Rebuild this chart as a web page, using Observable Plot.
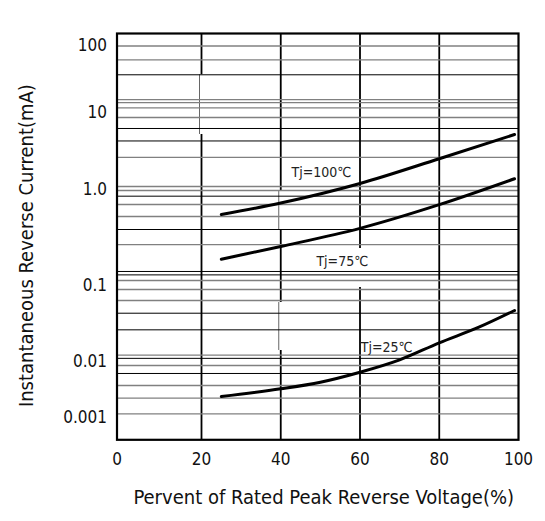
<!DOCTYPE html>
<html><head><meta charset="utf-8">
<script src="https://cdn.jsdelivr.net/npm/d3@7"></script>
<script src="https://cdn.jsdelivr.net/npm/@observablehq/plot@0.6"></script>
<style>body{margin:0;background:#fff} svg{display:block}</style>
</head><body><div id="chart"></div>
<script>
// Percent of rated peak reverse voltage
const voltage = [25, 40, 60, 80, 99];
const tj100 = [0.549, 0.723, 1.197, 2.51, 5.18];
const tj75 = [0.188, 0.255, 0.394, 0.695, 1.38];
const voltage25 = [25, 40, 50, 60, 70, 80, 90, 99];
const tj25 = [0.00237, 0.00325, 0.00427, 0.00644, 0.01052, 0.01762, 0.02825, 0.0469];

const xTicks = [0, 20, 40, 60, 80, 100];
const yTicks = [100, 10, 1, 0.1, 0.01, 0.001];
const yTickLabels = ["100", "10", "1.0", "0.1", "0.01", "0.001"];

// irregular printed grid (mA)
const gridBlack = [150, 36.9, 6.20, 4.27, 0.852, 0.383, 0.140, 0.129, 0.0432, 0.0261, 0.0110, 0.00611];
const gridGray = [100, 61.8, 15.6, 14.1, 11.7, 8.61, 2.61, 1.094, 0.976, 0.698, 0.523, 0.267, 0.1127, 0.0886, 0.0635, 0.0121, 0.00849, 0.00373, 0.00221, 0.00116];
const gridX = [20, 40, 60, 80];
const gapX = [20, 40, 40, 60];
const gapTop = [36.9, 0.976, 0.0597, 0.243];
const gapBottom = [5.18, 0.383, 0.01396, 0.0941];
const gapThin = [true, true, true, false];

const curveLabels = ["Tj=100\u2103", "Tj=75\u2103", "Tj=25\u2103"];
const labelX = [42.7, 49.0, 60.2];
const labelY = [1.64, 0.178, 0.0155];

const xTitle = "Pervent of Rated Peak Reverse Voltage(%)";
const yTitle = "Instantaneous Reverse Current(mA)";

const font = "'Liberation Sans Narrow', 'Arial Narrow', 'DejaVu Sans Condensed', sans-serif";

const series = [
  ...voltage.map((v, i) => ({x: v, y: tj100[i], s: "100"})),
  ...voltage.map((v, i) => ({x: v, y: tj75[i], s: "75"})),
  ...voltage25.map((v, i) => ({x: v, y: tj25[i], s: "25"}))
];
const gaps = gapX.map((x, i) => ({x, top: gapTop[i], bottom: gapBottom[i], thin: gapThin[i]}));
const labs = curveLabels.map((t, i) => ({t, x: labelX[i], y: labelY[i]}));

const W = 545, H = 521;
const mL = 116.5, mR = 27, mT = 33, mB = 81.7;

const chart = Plot.plot({
  width: W, height: H,
  marginLeft: mL, marginRight: mR, marginTop: mT, marginBottom: mB,
  style: {fontFamily: font, background: "#fff", color: "#111"},
  x: {type: "linear", domain: [0, 20, 100], range: [mL, 201, 518]},
  y: {type: "log", domain: [0.0004, 0.001, 0.01, 0.1, 1, 10, 100, 150],
      range: [H - mB, 417, 361, 285, 189, 112, 45.5, mT]},
  marks: [
    Plot.ruleX(gridX, {stroke: "#000", strokeWidth: 1.8}),
    Plot.ruleX(gaps, {x: "x", y1: "top", y2: "bottom", stroke: "#fff", strokeWidth: 4}),
    Plot.ruleX(gaps.filter(d => d.thin), {x: "x", y1: "top", y2: "bottom", stroke: "#666", strokeWidth: 1, dx: -2}),
    Plot.ruleY(gridGray, {stroke: "#808080", strokeWidth: 1.3}),
    Plot.ruleY(gridBlack, {stroke: "#000", strokeWidth: 1}),
    Plot.frame({stroke: "#000", strokeWidth: 2.2}),
    Plot.line(series, {x: "x", y: "y", z: "s", stroke: "#000", strokeWidth: 3, curve: "monotone-x"}),
    Plot.text(labs, {x: "x", y: "y", text: "t", textAnchor: "start", fontSize: 14, fill: "#222"}),
    Plot.axisX(xTicks, {tickSize: 0, tickPadding: 13, fontSize: 17, label: null, fill: "#111"}),
    Plot.axisY(yTicks, {tickSize: 0, tickPadding: 10, fontSize: 17, label: null, fill: "#111",
      tickFormat: d => yTickLabels[yTicks.indexOf(d)]}),
    Plot.text([xTitle], {frameAnchor: "bottom", textAnchor: "middle", lineAnchor: "middle", dx: 6, dy: 58, fontSize: 20, fill: "#111"}),
    Plot.text([yTitle], {frameAnchor: "left", textAnchor: "middle", lineAnchor: "middle", rotate: -90, dx: -90, dy: 9, fontSize: 20, fill: "#111"})
  ]
});
document.getElementById("chart").appendChild(chart);
</script>
</body></html>
